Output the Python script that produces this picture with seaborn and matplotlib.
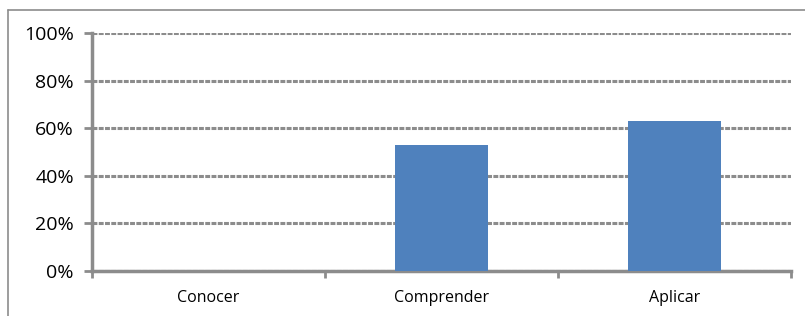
import matplotlib
matplotlib.use("Agg")
import matplotlib.pyplot as plt
from matplotlib.lines import Line2D
from matplotlib.ticker import FixedLocator, PercentFormatter
import seaborn as sns
import pandas as pd

categories = ["Conocer", "Comprender", "Aplicar"]
values = [0.0, 53.0, 63.0]
yticks = [0, 20, 40, 60, 80, 100]

sns.set_style("white")
plt.rcParams['font.family'] = ['Open Sans', 'DejaVu Sans']

df = pd.DataFrame({"cat": categories, "val": values})

fig = plt.figure(figsize=(8.05, 3.16), dpi=100)
ax = fig.add_axes([92/805, 1-271/316, (791-92)/805, (271-33)/316])

sns.barplot(data=df, x="cat", y="val", order=categories, color="#4F81BD",
            saturation=1, width=0.40, ax=ax, zorder=3, edgecolor="none")

gray = "#8C8C8C"
ax.set_xlim(-0.5, 2.5)
ax.set_ylim(0, 100)
ax.set_yticks(yticks)
ax.yaxis.set_major_formatter(PercentFormatter(decimals=0))
ax.set_xlabel("")
ax.set_ylabel("")

ax.yaxis.grid(True, linestyle=(0, (1.6, 0.45)), linewidth=2.2, color=gray, zorder=0)
ax.set_axisbelow(True)

for s in ["top", "right"]:
    ax.spines[s].set_visible(False)
for s in ["left", "bottom"]:
    ax.spines[s].set_color(gray)
    ax.spines[s].set_linewidth(2.5)

ax.tick_params(axis="y", which="major", direction="out", length=6, width=2,
               color=gray, labelsize=14, labelcolor="black", left=True, pad=7)
ax.tick_params(axis="x", which="major", length=0, labelsize=11.5, labelcolor="black", pad=14)
ax.xaxis.set_minor_locator(FixedLocator([-0.5, 0.5, 1.5, 2.5]))
ax.tick_params(axis="x", which="minor", direction="out", length=5, width=2, color=gray, bottom=True)

# outer chart frame (partially visible: left and top)
fig.add_artist(Line2D([8/805, 8/805], [0, 1-10/316], color=gray, linewidth=1.2,
                      transform=fig.transFigure))
fig.add_artist(Line2D([8/805, 1], [1-10/316, 1-10/316], color=gray, linewidth=1.2,
                      transform=fig.transFigure))

fig.savefig("out.png", dpi=100, facecolor="white")
